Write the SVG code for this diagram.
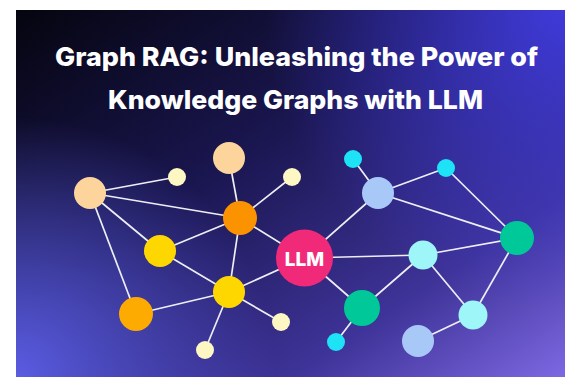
<svg xmlns="http://www.w3.org/2000/svg" width="565" height="377" viewBox="0 0 565 377">
<defs>
<linearGradient id="bgLin" x1="0" y1="0" x2="1" y2="1">
<stop offset="0" stop-color="#05050f"/>
<stop offset="0.4" stop-color="#1a1650"/>
<stop offset="0.75" stop-color="#3e3398"/>
<stop offset="1" stop-color="#7d68e2"/>
</linearGradient>
<radialGradient id="bgTR" gradientUnits="userSpaceOnUse" cx="565" cy="10" r="300">
<stop offset="0" stop-color="#3f3ad9" stop-opacity="1"/>
<stop offset="1" stop-color="#3f3ad9" stop-opacity="0"/>
</radialGradient>
<radialGradient id="bgBL" gradientUnits="userSpaceOnUse" cx="16" cy="377" r="260">
<stop offset="0" stop-color="#5a5ce2" stop-opacity="1"/>
<stop offset="1" stop-color="#5a5ce2" stop-opacity="0"/>
</radialGradient>
<style>
.t{font-family:Inter,"Liberation Sans",sans-serif;font-weight:800;fill:#ffffff;text-anchor:middle}
.e{stroke:#eeeef5;stroke-width:1.7;fill:none}
.peach{fill:#fcd49c}
.cream{fill:#fdf7c3}
.orange{fill:#fb9300}
.yellow{fill:#fed700}
.amber{fill:#fdab00}
.pink{fill:#f02a78}
.lblue{fill:#a8c9f8}
.cyan{fill:#1ee2f5}
.green{fill:#00c898}
.lcyan{fill:#9ef6f8}
</style>
</defs>
<rect x="0" y="0" width="565" height="377" fill="#ffffff"/>
<g id="background">
<rect x="16" y="10" width="549" height="367" fill="url(#bgLin)"/>
<rect x="16" y="10" width="549" height="367" fill="url(#bgTR)"/>
<rect x="16" y="10" width="549" height="367" fill="url(#bgBL)"/>
</g>
<g id="title">
<text class="t" x="296.5" y="65.5" font-size="26" textLength="483" lengthAdjust="spacingAndGlyphs">Graph RAG: Unleashing the Power of</text>
<text class="t" x="295.5" y="109" font-size="26" textLength="375" lengthAdjust="spacingAndGlyphs">Knowledge Graphs with LLM</text>
</g>
<g id="connectors">
<line class="e" x1="90" y1="193" x2="177" y2="177"/>
<line class="e" x1="90" y1="193" x2="240" y2="218"/>
<line class="e" x1="90" y1="193" x2="160" y2="251"/>
<line class="e" x1="90" y1="193" x2="136" y2="314"/>
<line class="e" x1="229" y1="158" x2="240" y2="218"/>
<line class="e" x1="240" y1="218" x2="292" y2="177"/>
<line class="e" x1="240" y1="218" x2="160" y2="251"/>
<line class="e" x1="240" y1="218" x2="229" y2="292"/>
<line class="e" x1="240" y1="218" x2="304.5" y2="258"/>
<line class="e" x1="160" y1="251" x2="229" y2="292"/>
<line class="e" x1="136" y1="314" x2="229" y2="292"/>
<line class="e" x1="229" y1="292" x2="304.5" y2="258"/>
<line class="e" x1="229" y1="292" x2="281" y2="322"/>
<line class="e" x1="229" y1="292" x2="205" y2="350"/>
<line class="e" x1="304.5" y1="258" x2="378" y2="193"/>
<line class="e" x1="304.5" y1="258" x2="423" y2="255"/>
<line class="e" x1="304.5" y1="258" x2="362" y2="308"/>
<line class="e" x1="353" y1="159" x2="378" y2="193"/>
<line class="e" x1="378" y1="193" x2="446" y2="168"/>
<line class="e" x1="378" y1="193" x2="517" y2="238"/>
<line class="e" x1="446" y1="168" x2="517" y2="238"/>
<line class="e" x1="423" y1="255" x2="517" y2="238"/>
<line class="e" x1="423" y1="255" x2="362" y2="308"/>
<line class="e" x1="423" y1="255" x2="473" y2="315"/>
<line class="e" x1="517" y1="238" x2="473" y2="315"/>
<line class="e" x1="473" y1="315" x2="418" y2="341"/>
<line class="e" x1="362" y1="308" x2="336" y2="342"/>
</g>
<g id="n-peach-left"><circle class="peach" cx="90" cy="193" r="16"/></g>
<g id="n-cream-1"><circle class="cream" cx="177" cy="177" r="9"/></g>
<g id="n-peach-top"><circle class="peach" cx="229" cy="158" r="16"/></g>
<g id="n-cream-2"><circle class="cream" cx="292" cy="177" r="9"/></g>
<g id="n-orange"><circle class="orange" cx="240" cy="218" r="17"/></g>
<g id="n-yellow-1"><circle class="yellow" cx="160" cy="251" r="16"/></g>
<g id="n-yellow-2"><circle class="yellow" cx="229" cy="292" r="16"/></g>
<g id="n-amber"><circle class="amber" cx="136" cy="314" r="17"/></g>
<g id="n-cream-3"><circle class="cream" cx="281" cy="322" r="9"/></g>
<g id="n-cream-4"><circle class="cream" cx="205" cy="350" r="9"/></g>
<g id="n-llm"><circle class="pink" cx="304.5" cy="258" r="28.5"/><text x="304.5" y="265.5" font-family="Inter,'Liberation Sans',sans-serif" font-weight="800" font-size="19" fill="#ffffff" text-anchor="middle">LLM</text></g>
<g id="n-cyan-1"><circle class="cyan" cx="353" cy="159" r="9"/></g>
<g id="n-lblue-1"><circle class="lblue" cx="378" cy="193" r="16"/></g>
<g id="n-cyan-2"><circle class="cyan" cx="446" cy="168" r="9"/></g>
<g id="n-green-1"><circle class="green" cx="517" cy="238" r="17"/></g>
<g id="n-lcyan-1"><circle class="lcyan" cx="423" cy="255" r="14.5"/></g>
<g id="n-green-2"><circle class="green" cx="362" cy="308" r="18"/></g>
<g id="n-cyan-3"><circle class="cyan" cx="336" cy="342" r="9"/></g>
<g id="n-lcyan-2"><circle class="lcyan" cx="473" cy="315" r="14.5"/></g>
<g id="n-lblue-2"><circle class="lblue" cx="418" cy="341" r="16"/></g>
</svg>
